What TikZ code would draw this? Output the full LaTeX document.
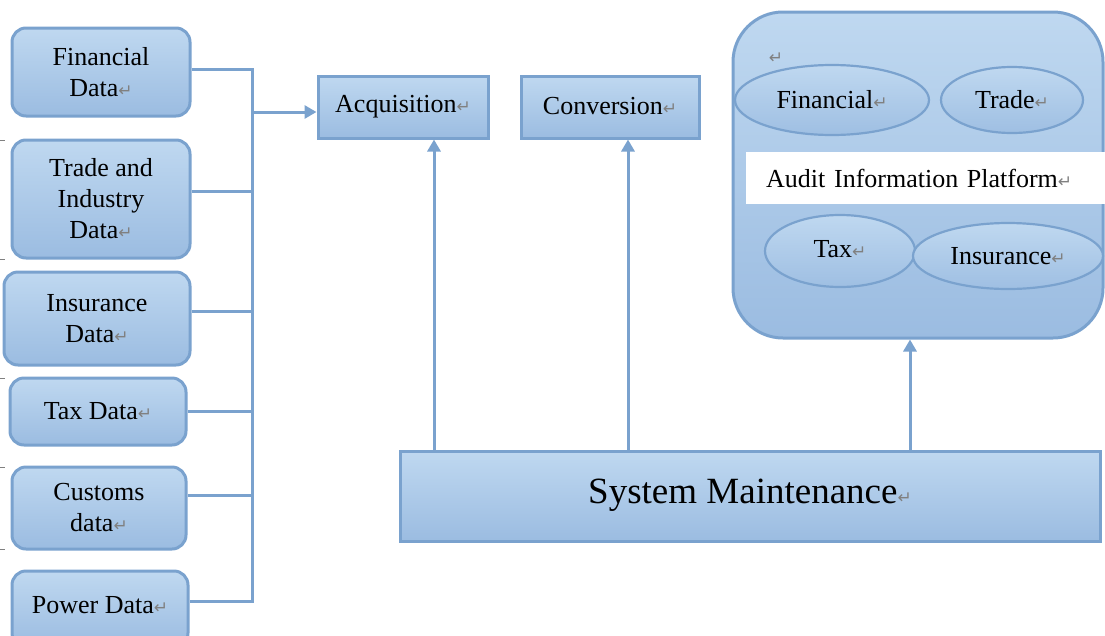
\documentclass[tikz,border=0pt]{standalone}
\usepackage{fontspec}
\setmainfont{Liberation Serif}
\newfontfamily\serifmain{Liberation Serif}
\newfontfamily\arrfont{DejaVu Sans}
\usetikzlibrary{arrows.meta,shapes.geometric,calc}
\definecolor{bd}{HTML}{7AA2CE}
\definecolor{ftop}{HTML}{BFD8F0}
\definecolor{fbot}{HTML}{9BBCE1}
\newcommand\retmark{{\arrfont\color{gray}\fontsize{17}{17}\selectfont ↵}}
\begin{document}
\begin{tikzpicture}[x=1pt,y=-1pt, font=\serifmain\fontsize{26}{31}\selectfont,
  databox/.style={draw=bd, line width=3pt, rounded corners=14pt, top color=ftop, bottom color=fbot, align=center, inner sep=0pt},
  sqbox/.style={draw=bd, line width=3pt, top color=ftop, bottom color=fbot, inner sep=0pt, align=center},
  ell/.style={ellipse, draw=bd, line width=2.2pt, top color=ftop, bottom color=fbot!90!ftop, inner sep=0pt},
  conn/.style={draw=bd, line width=3pt},
  arr/.style={conn, -{Triangle[width=13pt,length=12pt]}},
  tick/.style={draw=gray, line width=0.8pt}]
\useasboundingbox (0,0) rectangle (1105,635);
% left data boxes
\node[databox, minimum width=178pt, minimum height=88pt] (fin) at (101,72) {Financial\\Data\retmark};
\node[databox, minimum width=178pt, minimum height=118pt] (trade) at (101,199) {Trade and\\Industry\\Data\retmark};
\node[databox, minimum width=186pt, minimum height=93pt] (ins) at (97,318.5) {Insurance\\Data\retmark};
\node[databox, minimum width=176pt, minimum height=67pt] (tax) at (98,411.5) {Tax Data\retmark};
\node[databox, minimum width=174pt, minimum height=82pt] (cust) at (99,508) {Customs\\data\retmark};
\node[databox, minimum width=176pt, minimum height=76pt] (pow) at (100,609) {\raisebox{8pt}{Power Data\retmark}};
% tiny margin ticks
\foreach \yy in {140,259,378,467,549} \draw[tick] (0,\yy) -- (5,\yy);
% process boxes
\node[sqbox, minimum width=170pt, minimum height=62pt] (acq) at (403,107) {\raisebox{3pt}{Acquisition\retmark}};
\node[sqbox, minimum width=178pt, minimum height=62pt] (conv) at (610,107) {\raisebox{3pt}{Conversion\retmark}};
\node[sqbox, minimum width=700pt, minimum height=90pt, font=\serifmain\fontsize{37}{40}\selectfont] (sys) at (750,496) {\raisebox{10pt}{System Maintenance\retmark}};
% platform
\node[draw=bd, line width=3pt, rounded corners=50pt, top color=ftop, bottom color=fbot, minimum width=370pt, minimum height=326pt, inner sep=0pt] (plat) at (918,175) {};
\node[anchor=west, fill=white, text width=320pt, inner xsep=20pt, minimum height=52pt, align=left] (aip) at (746,178) {Audit Information Platform\retmark};
\node (pmark) at (776,58) {\retmark};
\node[ell, minimum width=194pt, minimum height=70pt] (efin) at (832,100) {\raisebox{-3pt}{Financial\retmark}};
\node[ell, minimum width=142pt, minimum height=66pt] (etrade) at (1012,100) {Trade\retmark};
\node[ell, minimum width=150pt, minimum height=72pt] (etax) at (840,251) {\raisebox{5pt}{Tax\retmark}};
\node[ell, minimum width=190pt, minimum height=66pt] (eins) at (1008,256) {Insurance\retmark};
% connectors from data boxes
\coordinate (ttop) at (252,69);
\coordinate (tbot) at (252,601);
\draw[conn] (fin.east |- ttop) -- (ttop) -- (tbot) -- (pow.east |- tbot);
\draw[conn] ([yshift=8pt]trade.east) -- ([yshift=8pt]trade.east -| ttop);
\draw[conn] ([yshift=7pt]ins.east) -- ([yshift=7pt]ins.east -| ttop);
\draw[conn] (tax.east) -- (tax.east -| ttop);
\draw[conn] ([yshift=13pt]cust.east) -- ([yshift=13pt]cust.east -| ttop);
\path ([yshift=-5pt]acq.west) coordinate (ain);
\draw[arr] (ain -| ttop) -- (ain);
% upward arrows
\path ([xshift=31pt]acq.south) coordinate (a1);
\path ([xshift=18pt]conv.south) coordinate (a2);
\path ([xshift=-8pt]plat.south) coordinate (a3);
\draw[arr] (a1 |- sys.north) -- (a1);
\draw[arr] (a2 |- sys.north) -- (a2);
\draw[arr] (a3 |- sys.north) -- (a3);
\end{tikzpicture}
\end{document}
